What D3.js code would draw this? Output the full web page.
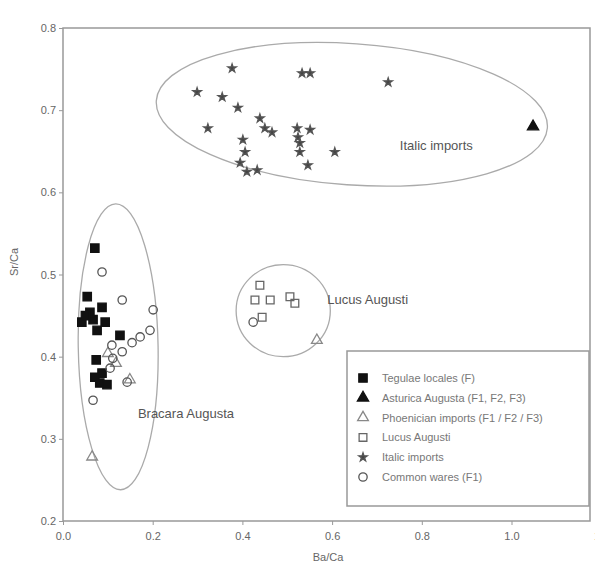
<!DOCTYPE html>
<html>
<head>
<meta charset="utf-8">
<script src="https://cdn.jsdelivr.net/npm/d3@7"></script>
<style>
  body { margin: 0; background: #fff; }
  text { font-family: "Liberation Sans", Arial, sans-serif; }
</style>
</head>
<body>
<svg width="595" height="566"></svg>
<script>
// tick labels
const xTicks = [0.0, 0.2, 0.4, 0.6, 0.8, 1.0, 1.2];
const yTicks = [0.2, 0.3, 0.4, 0.5, 0.6, 0.7, 0.8];

// series: [x, y]
const tegulae = [
  [0.071, 0.532], [0.054, 0.473], [0.042, 0.442], [0.067, 0.445], [0.076, 0.432],
  [0.087, 0.460], [0.127, 0.426], [0.087, 0.380], [0.082, 0.368], [0.098, 0.366],
  [0.071, 0.375], [0.060, 0.454], [0.094, 0.442], [0.074, 0.396], [0.050, 0.450]
];
const asturica = [[1.048, 0.680]];
const phoenician = [[0.100, 0.404], [0.149, 0.372], [0.065, 0.278], [0.566, 0.420], [0.118, 0.392]];
const lucus = [
  [0.439, 0.487], [0.428, 0.469], [0.462, 0.469], [0.444, 0.448], [0.506, 0.473], [0.517, 0.465]
];
const italic = [
  [0.377, 0.751], [0.533, 0.745], [0.551, 0.745], [0.725, 0.734], [0.299, 0.722],
  [0.355, 0.716], [0.390, 0.703], [0.323, 0.678], [0.439, 0.690], [0.450, 0.678],
  [0.466, 0.673], [0.522, 0.678], [0.551, 0.676], [0.524, 0.667], [0.528, 0.660],
  [0.528, 0.649], [0.606, 0.649], [0.401, 0.664], [0.406, 0.649], [0.395, 0.636],
  [0.410, 0.625], [0.433, 0.627], [0.546, 0.633]
];
const common = [
  [0.087, 0.503], [0.132, 0.469], [0.201, 0.457], [0.194, 0.432], [0.172, 0.424],
  [0.154, 0.417], [0.132, 0.406], [0.111, 0.398], [0.105, 0.386], [0.143, 0.369],
  [0.067, 0.347], [0.109, 0.414], [0.424, 0.442]
];

// group regions: centre x, centre y, half width, half height (data units), tilt
const groupNames = ["Italic imports", "Lucus Augusti", "Bracara Augusta"];
const groupCx = [0.644, 0.491, 0.123];
const groupCy = [0.695, 0.456, 0.412];
const groupRx = [0.437, 0.105, 0.089];
const groupRy = [0.086, 0.056, 0.174];
const groupTilt = [4, 0, -1];
const labelX = [0.751, 0.589, 0.167];
const labelY = [0.652, 0.464, 0.325];

const legendLabels = [
  "Tegulae locales (F)",
  "Asturica Augusta (F1, F2, F3)",
  "Phoenician imports (F1 / F2 / F3)",
  "Lucus Augusti",
  "Italic imports",
  "Common wares (F1)"
];

const svg = d3.select("svg");
const x = d3.scaleLinear().domain([0, 1.175]).range([63, 590]);
const y = d3.scaleLinear().domain([0.2, 0.8]).range([521, 28]);

// frame
svg.append("rect")
  .attr("x", x(0)).attr("y", y(0.8))
  .attr("width", x(1.175) - x(0)).attr("height", y(0.2) - y(0.8))
  .attr("fill", "none").attr("stroke", "#999").attr("stroke-width", 1.5);

const xAxis = d3.axisBottom(x).tickValues(xTicks).tickFormat(d3.format(".1f")).tickSize(4);
const yAxis = d3.axisLeft(y).tickValues(yTicks).tickFormat(d3.format(".1f")).tickSize(4);

const gx = svg.append("g").attr("transform", `translate(0,${y(0.2)})`).call(xAxis);
const gy = svg.append("g").attr("transform", `translate(${x(0)},0)`).call(yAxis);
[gx, gy].forEach(g => {
  g.select(".domain").remove();
  g.selectAll("line").attr("stroke", "#999");
  g.selectAll("text").attr("fill", "#666").style("font-size", "11px");
});
gx.selectAll("text").attr("dy", "1.1em");

// axis titles
svg.append("text")
  .attr("x", 328).attr("y", 561)
  .attr("text-anchor", "middle").attr("fill", "#666").style("font-size", "11px")
  .text("Ba/Ca");
svg.append("text")
  .attr("transform", "translate(18,262) rotate(-90)")
  .attr("text-anchor", "middle").attr("fill", "#666").style("font-size", "11px")
  .text("Sr/Ca");

// ellipses
const pxPerX = x(1) - x(0);
const pxPerY = y(0) - y(1);
groupNames.forEach((name, i) => {
  svg.append("ellipse")
    .attr("cx", x(groupCx[i])).attr("cy", y(groupCy[i]))
    .attr("rx", groupRx[i] * pxPerX).attr("ry", groupRy[i] * pxPerY)
    .attr("transform", `rotate(${groupTilt[i]},${x(groupCx[i])},${y(groupCy[i])})`)
    .attr("fill", "none").attr("stroke", "#aaa").attr("stroke-width", 1.3);
  svg.append("text")
    .attr("x", x(labelX[i])).attr("y", y(labelY[i]))
    .attr("fill", "#555").style("font-size", "13px")
    .text(name);
});

// marker styles per series
const series = [
  { data: tegulae, type: d3.symbolSquare, size: 70, fill: "#111", stroke: "#111" },
  { data: asturica, type: d3.symbolTriangle, size: 55, fill: "#111", stroke: "#111" },
  { data: phoenician, type: d3.symbolTriangle, size: 50, fill: "none", stroke: "#888" },
  { data: lucus, type: d3.symbolSquare, size: 60, fill: "none", stroke: "#666" },
  { data: italic, type: d3.symbolStar, size: 22, fill: "#444", stroke: "#555" },
  { data: common, type: d3.symbolCircle, size: 55, fill: "none", stroke: "#555" }
];

series.forEach(s => {
  svg.append("g").selectAll("path")
    .data(s.data)
    .enter()
    .append("path")
    .attr("transform", d => `translate(${x(d[0])},${y(d[1])})`)
    .attr("d", d3.symbol().type(s.type).size(s.size))
    .attr("fill", s.fill)
    .attr("stroke", s.stroke)
    .attr("stroke-width", 1.3);
});

// legend
const legend = svg.append("g").attr("transform", "translate(347,351)");
legend.append("rect")
  .attr("width", 242).attr("height", 155)
  .attr("fill", "#fff").attr("stroke", "#999").attr("stroke-width", 1.5);
legendLabels.forEach((label, i) => {
  const s = series[i];
  const ly = 27 + i * 19.8;
  legend.append("path")
    .attr("transform", `translate(16,${ly})`)
    .attr("d", d3.symbol().type(s.type).size(s.size))
    .attr("fill", s.fill).attr("stroke", s.stroke).attr("stroke-width", 1.3);
  legend.append("text")
    .attr("x", 35).attr("y", ly + 4)
    .attr("fill", "#777").style("font-size", "11px")
    .text(label);
});
</script>
</body>
</html>
